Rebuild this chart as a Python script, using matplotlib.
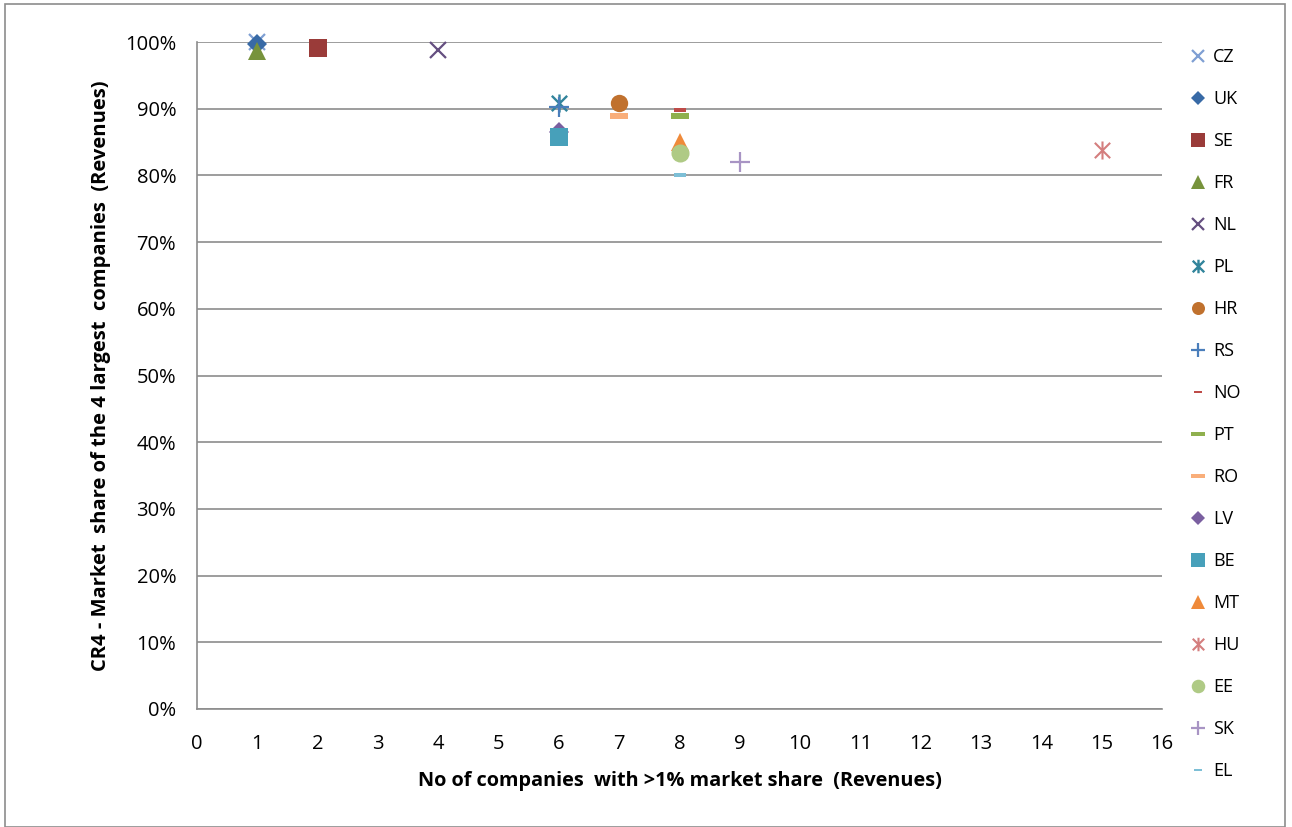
import matplotlib
matplotlib.use("Agg")
import matplotlib.pyplot as plt
from matplotlib.patches import Rectangle
from matplotlib.ticker import FuncFormatter, MultipleLocator
from matplotlib.path import Path

plt.rcParams['font.family'] = ['Open Sans', 'DejaVu Sans']

countries = ["CZ", "UK", "SE", "FR", "NL", "PL", "HR", "RS", "NO",
             "PT", "RO", "LV", "BE", "MT", "HU", "EE", "SK", "EL"]
num_companies = [1, 1, 2, 1, 4, 6, 7, 6, 8, 8, 7, 6, 6, 8, 15, 8, 9, 8]
cr4_share = [1.000, 0.997, 0.991, 0.987, 0.988, 0.909, 0.908, 0.903, 0.898,
             0.889, 0.889, 0.865, 0.858, 0.850, 0.838, 0.834, 0.820, 0.801]

# short rectangular bar symbol
dash = Path([(-1, -0.28), (1, -0.28), (1, 0.28), (-1, 0.28), (-1, -0.28)],
            [Path.MOVETO, Path.LINETO, Path.LINETO, Path.LINETO, Path.CLOSEPOLY])
# star symbol: a cross with a vertical stroke through its centre
star = Path([(-0.85, -0.85), (0.85, 0.85), (-0.85, 0.85), (0.85, -0.85),
             (0, -1), (0, 1)],
            [Path.MOVETO, Path.LINETO, Path.MOVETO, Path.LINETO,
             Path.MOVETO, Path.LINETO])

styles = {
    "CZ": dict(marker="x", color="#7F9FD3", ms=11, mew=1.6),
    "UK": dict(marker="D", color="#386AA6", ms=10, mew=0),
    "SE": dict(marker="s", color="#9A3B39", ms=12.5, mew=0),
    "FR": dict(marker="^", color="#77933C", ms=13, mew=0),
    "NL": dict(marker="x", color="#654F80", ms=11, mew=1.6),
    "PL": dict(marker=star, color="#31849B", ms=13, mew=1.7),
    "HR": dict(marker="o", color="#C0712E", ms=12.5, mew=0),
    "RS": dict(marker="+", color="#4A7EBB", ms=14, mew=1.6),
    "NO": dict(marker=dash, color="#BE4B48", ms=8, mew=0),
    "PT": dict(marker=dash, color="#8FB04E", ms=13, mew=0),
    "RO": dict(marker=dash, color="#F9AE7A", ms=13, mew=0),
    "LV": dict(marker="D", color="#7A5FA0", ms=10, mew=0),
    "BE": dict(marker="s", color="#47A0BA", ms=13, mew=0),
    "MT": dict(marker="^", color="#EF8A3A", ms=13, mew=0),
    "HU": dict(marker=star, color="#D47E7E", ms=13, mew=1.5),
    "EE": dict(marker="o", color="#AFCA85", ms=13, mew=0),
    "SK": dict(marker="+", color="#A894C4", ms=14, mew=1.6),
    "EL": dict(marker=dash, color="#7DBFD6", ms=8, mew=0),
}

fig = plt.figure(figsize=(12.92, 8.27), dpi=100)
ax = fig.add_axes([197 / 1292, 1 - 709 / 827, (1162 - 197) / 1292, (709 - 42) / 827])

for c, x, y in zip(countries, num_companies, cr4_share):
    st = styles[c]
    ax.plot([x], [y], linestyle="none", marker=st["marker"], markersize=st["ms"],
            color=st["color"], markeredgecolor=st["color"],
            markeredgewidth=st["mew"], label=c, clip_on=False, zorder=3)

ax.set_xlim(0, 16)
ax.set_ylim(0, 1.0)
ax.xaxis.set_major_locator(MultipleLocator(1))
ax.yaxis.set_major_locator(MultipleLocator(0.1))
ax.yaxis.set_major_formatter(FuncFormatter(lambda v, p: f"{v * 100:.0f}%"))
ax.grid(axis="y", color="#8C8C8C", linewidth=1.2)
ax.set_axisbelow(True)
for s in ["top", "right"]:
    ax.spines[s].set_visible(False)
for s in ["left", "bottom"]:
    ax.spines[s].set_color("#8C8C8C")
    ax.spines[s].set_linewidth(1.2)
ax.tick_params(length=0, labelsize=14.5)
ax.tick_params(axis="x", pad=18)
ax.tick_params(axis="y", pad=15)

ax.set_xlabel("No of companies  with >1% market share  (Revenues)",
              fontsize=14.3, fontweight="bold", labelpad=12)
ax.set_ylabel("CR4 - Market  share of the 4 largest  companies  (Revenues)",
              fontsize=14.5, fontweight="bold", labelpad=10)

leg = ax.legend(loc="upper left", bbox_to_anchor=(1184 / 1292, 1 - 41 / 827),
                bbox_transform=fig.transFigure, frameon=False, fontsize=13,
                handlelength=0.8, handletextpad=0.4, labelspacing=1.33,
                markerscale=0.75, borderaxespad=0)

fig.patches.append(Rectangle((5 / 1292, 0), 1280 / 1292, 1 - 4 / 827,
                             transform=fig.transFigure, fill=False,
                             edgecolor="#8C8C8C", linewidth=1.2))

fig.savefig("out.png", dpi=100)
